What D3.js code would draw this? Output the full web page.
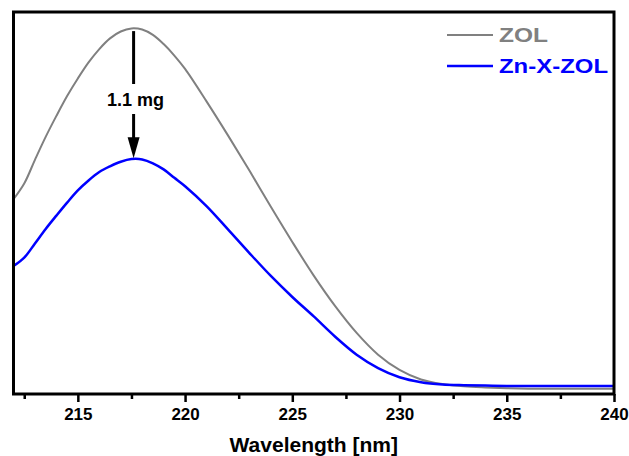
<!DOCTYPE html>
<html><head><meta charset="utf-8">
<script src="https://cdn.jsdelivr.net/npm/d3@7/dist/d3.min.js"></script>
<style>
html,body{margin:0;padding:0;background:#fff;}
svg{display:block;font-family:"Liberation Sans",Arial,Helvetica,sans-serif;font-weight:bold;}
</style></head>
<body><svg id="chart" width="629" height="456"></svg>
<script>
const wavelength = [212,212.5,213,213.5,214,214.5,215,215.5,216,216.5,217,217.5,218,218.5,219,219.5,220,
  221,222,223,224,225,226,227,228,229,230,231,232,233,234,235,236,237,238,239,240];
const zol = [0.510,0.551,0.613,0.673,0.728,0.780,0.826,0.868,0.903,0.931,0.949,0.957,0.954,0.940,0.916,0.886,0.851,
  0.766,0.677,0.585,0.490,0.398,0.310,0.230,0.160,0.103,0.063,0.038,0.026,0.020,0.017,0.015,0.014,0.014,0.014,0.014,0.014];
const znxzol = [0.335,0.357,0.394,0.432,0.467,0.501,0.533,0.559,0.581,0.596,0.608,0.615,0.614,0.604,0.588,0.566,0.544,
  0.492,0.431,0.369,0.309,0.254,0.203,0.150,0.103,0.068,0.044,0.031,0.025,0.023,0.022,0.021,0.021,0.021,0.021,0.021,0.021];
const seriesNames = ["ZOL","Zn-X-ZOL"];
const seriesColors = ["#808080","#0000ff"];
const majorTicks = [215,220,225,230,235,240];
const minorTicks = [212.5,217.5,222.5,227.5,232.5,237.5];
const xTitle = "Wavelength [nm]";
const annotation = {x: 217.6, from: 0.950, to: 0.620, label: "1.1 mg"};

const svg = d3.select("#chart");
const L = 13.5, R = 614, T = 12, B = 394;
const x = d3.scaleLinear().domain([212,240]).range([L,R]);
const y = d3.scaleLinear().domain([0,1]).range([B,T]);

const line = d3.line().x((d,i)=>x(wavelength[i])).y(d=>y(d)).curve(d3.curveCatmullRom.alpha(0.5));

svg.append("clipPath").attr("id","clip").append("rect")
  .attr("x",L).attr("y",T).attr("width",R-L).attr("height",B-T);
const plot = svg.append("g").attr("clip-path","url(#clip)");
plot.append("path").datum(zol).attr("d",line).attr("fill","none")
  .attr("stroke",seriesColors[0]).attr("stroke-width",2);
plot.append("path").datum(znxzol).attr("d",line).attr("fill","none")
  .attr("stroke",seriesColors[1]).attr("stroke-width",2.5);

// axis
const axisG = svg.append("g").attr("transform",`translate(0,${B})`);
axisG.call(d3.axisBottom(x).tickValues(majorTicks).tickSize(8).tickFormat(d3.format("d")).tickPadding(6));
axisG.select(".domain").remove();
axisG.selectAll(".tick line").attr("stroke","#000").attr("stroke-width",2.5);
axisG.selectAll(".tick text").attr("font-size",17).attr("font-weight","bold")
  .attr("font-family","'Liberation Sans',Arial,sans-serif").attr("fill","#000");
const minorG = svg.append("g").attr("transform",`translate(0,${B})`);
minorG.call(d3.axisBottom(x).tickValues(minorTicks).tickSize(5).tickFormat(""));
minorG.select(".domain").remove();
minorG.selectAll(".tick line").attr("stroke","#000").attr("stroke-width",2.5);

// frame
svg.append("rect").attr("x",L).attr("y",T).attr("width",R-L).attr("height",B-T)
  .attr("fill","none").attr("stroke","#000").attr("stroke-width",3);

svg.append("text").attr("x",(L+R)/2).attr("y",452).attr("text-anchor","middle")
  .attr("font-size",21).attr("fill","#000").text(xTitle);

// annotation arrow
const ax = x(annotation.x);
svg.append("line").attr("x1",ax).attr("x2",ax).attr("y1",y(annotation.from)).attr("y2",84)
  .attr("stroke","#000").attr("stroke-width",3);
svg.append("line").attr("x1",ax).attr("x2",ax).attr("y1",114).attr("y2",y(annotation.to)-18)
  .attr("stroke","#000").attr("stroke-width",3);
const tip = y(annotation.to)+1;
svg.append("path").attr("d",`M${ax-6},${tip-21}L${ax+6},${tip-21}L${ax},${tip}Z`).attr("fill","#000");
svg.append("text").attr("x",ax+2).attr("y",106).attr("text-anchor","middle")
  .attr("font-size",18).attr("fill","#000").text(annotation.label);

// legend
const leg = svg.append("g");
seriesNames.forEach((n,i)=>{
  const yy = 35 + i*31;
  leg.append("line").attr("x1",447).attr("x2",493).attr("y1",yy).attr("y2",yy)
    .attr("stroke",seriesColors[i]).attr("stroke-width",i===0?2:2.5);
  leg.append("text").attr("x",499).attr("y",yy+7).attr("font-size",21)
    .attr("fill",seriesColors[i]).attr("textLength", i===0?49:109).attr("lengthAdjust","spacingAndGlyphs").text(n);
});
</script></body></html>
